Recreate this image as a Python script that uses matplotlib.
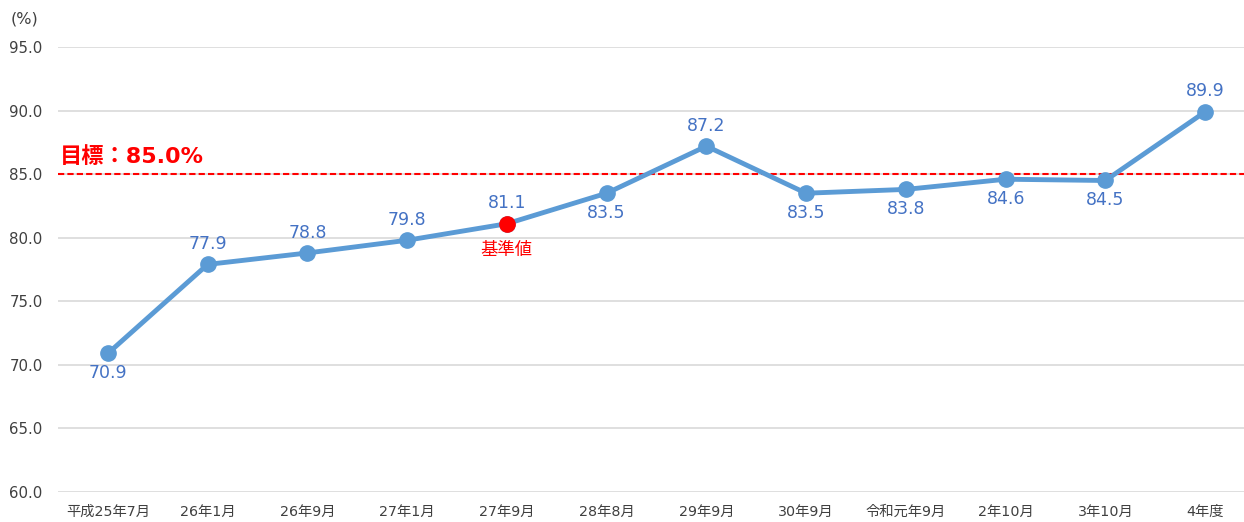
import matplotlib
matplotlib.use("Agg")
import matplotlib.pyplot as plt

plt.rcParams['font.family'] = ['DejaVu Sans', 'Noto Sans CJK JP']

categories = ["平成25年7月", "26年1月", "26年9月", "27年1月", "27年9月", "28年8月",
              "29年9月", "30年9月", "令和元年9月", "2年10月", "3年10月", "4年度"]
values = [70.9, 77.9, 78.8, 79.8, 81.1, 83.5, 87.2, 83.5, 83.8, 84.6, 84.5, 89.9]
label_pos = ["below", "above", "above", "above", "above", "below",
             "above", "below", "below", "below", "below", "above"]
baseline_index = 4
target = 85.0
yticks = [60.0, 65.0, 70.0, 75.0, 80.0, 85.0, 90.0, 95.0]

fig = plt.figure(figsize=(12.44, 5.22), dpi=100)
ax = fig.add_axes([58/1244, 1 - 492/522, (1255 - 58)/1244, (492 - 47)/522])

x = list(range(len(categories)))
ax.set_xlim(-0.5, len(categories) - 0.5)
ax.set_ylim(60, 95)
ax.set_yticks(yticks)
ax.set_yticklabels([f"{v:.1f}" for v in yticks], fontsize=10.8, color="#404040")
ax.set_xticks(x)
ax.set_xticklabels(categories, fontsize=10.3, color="#404040")
ax.tick_params(axis='both', length=0)
ax.tick_params(axis='y', pad=11)
ax.tick_params(axis='x', pad=9)
ax.grid(axis='y', color="#D9D9D9", linewidth=1.2)
ax.set_axisbelow(True)
for s in ax.spines.values():
    s.set_visible(False)

ax.axhline(target, color="#FF0000", linestyle=(0, (3, 1.5)), linewidth=1.5, zorder=2)
ax.text(-0.48, target + 0.55, "目標：85.0%", color="#FF0000", fontsize=16,
        fontweight='bold', ha='left', va='bottom')

ax.plot(x, values, color="#5B9BD5", linewidth=3.5, marker='o', markersize=11,
        markerfacecolor="#5B9BD5", markeredgecolor="#5B9BD5", zorder=3, clip_on=False)
ax.plot([x[baseline_index]], [values[baseline_index]], marker='o', markersize=11,
        color="#FF0000", zorder=4, linestyle='none')

for xi, v, p in zip(x, values, label_pos):
    off = 1.6 if p == "above" else -1.55
    ax.text(xi, v + off, f"{v:.1f}", color="#4472C4", fontsize=12.5,
            ha='center', va='center', zorder=5)

ax.text(x[baseline_index], values[baseline_index] - 2.1, "基準値", color="#FF0000",
        fontsize=12.5, ha='center', va='center')

fig.text(25/1244, 1 - 19/522, "(%)", fontsize=11.5, color="#404040", ha='center', va='center')

fig.savefig("out.png", dpi=100)
